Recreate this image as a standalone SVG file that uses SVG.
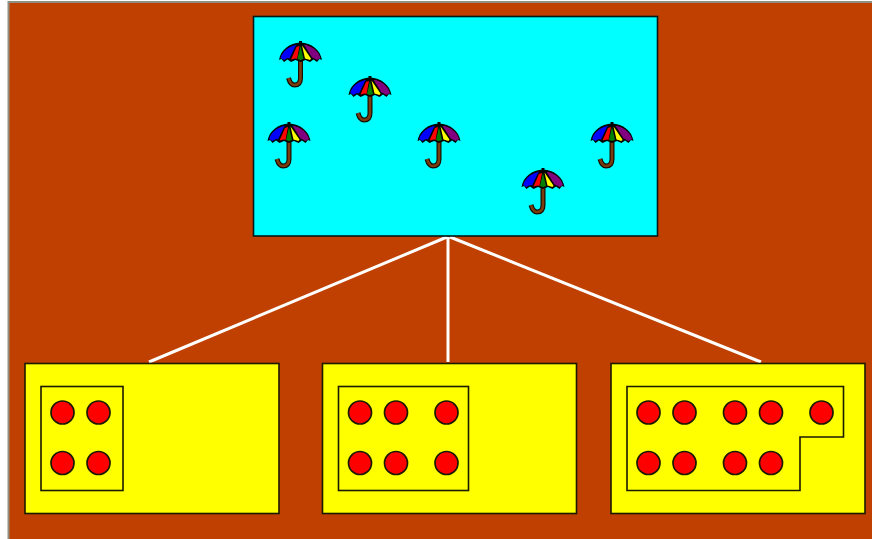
<svg xmlns="http://www.w3.org/2000/svg" width="872" height="539" viewBox="0 0 872 539">
<style>
.box{fill:#ffff00;stroke:#1a1a00;stroke-width:1.6}
.dot{fill:#ff0000;stroke:#1a1a00;stroke-width:1.7}
.link{stroke:#ffffff;stroke-width:3;fill:none}
</style>
<defs>
<g id="umb">
<path d="M0 20V37Q0 44-6 44Q-10 44-12 37" fill="none" stroke="#1a0d00" stroke-width="5"/>
<path d="M0 20V37Q0 44-6 44Q-10 44-12 37" fill="none" stroke="#7a3d10" stroke-width="2.600"/>
<path d="M0 1.500C-11 2-20 9-21.500 19L-19 18L-16.500 21L-13 18.500L-9.500 21L-5 19L0 21L5 19L9.500 21L13 18.500L16.500 21L19 18L21.500 19C20 9 11 2 0 1.500Z" fill="#000"/>
<path d="M-4 4C-11 5-18 10-19.800 17L-16.500 19L-13 17L-11 17.500L-5.500 6Z" fill="#0000ff"/>
<path d="M-4 6L-9.500 18.500L-5 17.500L-3.500 18L-1 5Z" fill="#ff0000"/>
<path d="M0 5L-3 18L0 19L3 18Z" fill="#008000"/>
<path d="M1.500 4.500L4.500 17.500L9.500 19L10.500 17.500Z" fill="#ffff00"/>
<path d="M3.500 3.800C11 4.500 18 10 20 17L16.500 19L13 17L11.500 16.500Z" fill="#800080"/>
<path d="M0 0V3" stroke="#000" stroke-width="3"/>
</g>
</defs>
<rect x="0" y="0" width="872" height="539" fill="#ffffff"/>
<rect x="8.500" y="2" width="864" height="537" fill="#bf4000"/>
<path d="M8.500 539V2H872" fill="none" stroke="#8f8f83" stroke-width="2"/>
<g id="connectors">
<path class="link" d="M447 237L149 362M448 237V362M450 237L761 362"/>
</g>
<g id="top">
<rect x="253.500" y="16.500" width="404" height="219.500" fill="#00ffff" stroke="#02181a" stroke-width="1.600"/>
<use href="#umb" x="300.500" y="41"/>
<use href="#umb" x="370" y="76"/>
<use href="#umb" x="289" y="122"/>
<use href="#umb" x="439" y="122"/>
<use href="#umb" x="543" y="168"/>
<use href="#umb" x="612" y="122"/>
</g>
<g id="left">
<rect class="box" x="25" y="363.500" width="254" height="150"/>
<rect class="box" x="41" y="386.500" width="82" height="104"/>
<circle class="dot" cx="62.500" cy="412.500" r="11.500"/><circle class="dot" cx="98.500" cy="412.500" r="11.500"/>
<circle class="dot" cx="62.500" cy="463" r="11.500"/><circle class="dot" cx="98.500" cy="463" r="11.500"/>
</g>
<g id="middle">
<rect class="box" x="322.500" y="363.500" width="254" height="150"/>
<rect class="box" x="338.500" y="386.500" width="130" height="104"/>
<circle class="dot" cx="360" cy="412.500" r="11.500"/><circle class="dot" cx="396" cy="412.500" r="11.500"/><circle class="dot" cx="446.500" cy="412.500" r="11.500"/>
<circle class="dot" cx="360" cy="463" r="11.500"/><circle class="dot" cx="396" cy="463" r="11.500"/><circle class="dot" cx="446.500" cy="463" r="11.500"/>
</g>
<g id="right">
<rect class="box" x="611" y="363.500" width="254" height="150"/>
<path class="box" d="M627 386.500H843.500V437H800V490.500H627Z"/>
<circle class="dot" cx="648.500" cy="412.500" r="11.500"/><circle class="dot" cx="684.500" cy="412.500" r="11.500"/><circle class="dot" cx="735" cy="412.500" r="11.500"/><circle class="dot" cx="771" cy="412.500" r="11.500"/><circle class="dot" cx="821.500" cy="412.500" r="11.500"/>
<circle class="dot" cx="648.500" cy="463" r="11.500"/><circle class="dot" cx="684.500" cy="463" r="11.500"/><circle class="dot" cx="735" cy="463" r="11.500"/><circle class="dot" cx="771" cy="463" r="11.500"/>
</g>
</svg>
